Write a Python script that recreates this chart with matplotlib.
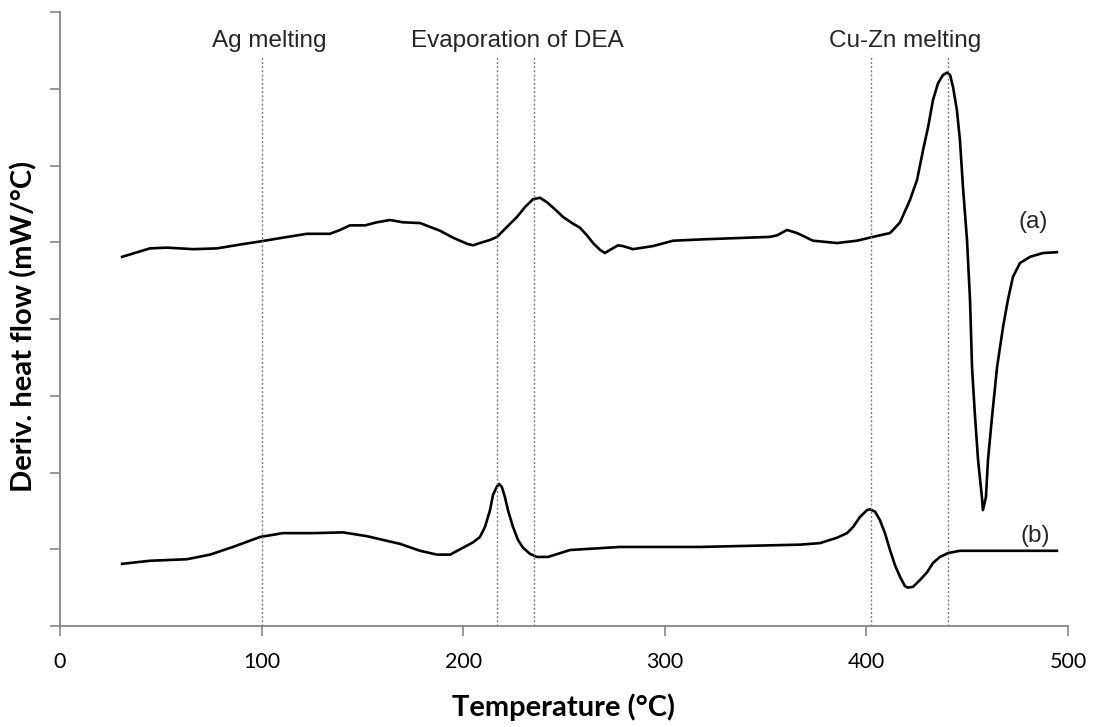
import matplotlib
matplotlib.use("Agg")
import matplotlib.pyplot as plt
import numpy as np

# curve (a) - temperature (C) and deriv. heat flow (arbitrary offset units)
temp_a = [30.8, 44.6, 53.1, 66.0, 77.9, 89.3, 99.2, 110.6, 122.5, 133.9, 138.9, 143.8,
          151.3, 157.2, 163.7, 170.1, 178.6, 188.5, 194.9, 201.9, 204.9, 208.3, 213.3,
          216.8, 221.7, 226.7, 230.7, 234.6, 238.1, 241.6, 245.5, 249.5, 254.0, 257.9,
          261.4, 264.4, 267.9, 270.3, 272.8, 276.8, 279.3, 284.2, 294.1, 304.1,
          320.9, 352.2, 355.7, 360.6, 365.6, 373.5, 385.4, 395.3, 403.3, 411.7,
          413.2, 416.7, 421.6, 425.1, 428.1, 430.6, 433.0, 435.5, 438.0, 440.0, 441.5,
          443.0, 444.9, 446.4, 447.9, 449.9, 451.4, 452.4, 453.9, 455.4, 457.3, 457.8,
          459.3, 460.3, 462.3, 464.8, 467.8, 470.2, 472.7, 476.2, 481.2, 487.6, 494.5]
flow_a = [4.81, 4.92, 4.93, 4.91, 4.92, 4.97, 5.01, 5.06, 5.11, 5.11, 5.16, 5.22,
          5.22, 5.26, 5.29, 5.26, 5.25, 5.15, 5.06, 4.98, 4.96, 4.99, 5.03,
          5.07, 5.20, 5.33, 5.46, 5.56, 5.58, 5.52, 5.43, 5.33, 5.25, 5.19,
          5.09, 4.99, 4.90, 4.86, 4.90, 4.96, 4.95, 4.91, 4.95, 5.02,
          5.04, 5.07, 5.09, 5.16, 5.12, 5.02, 4.99, 5.02, 5.07, 5.12,
          5.16, 5.26, 5.55, 5.81, 6.20, 6.50, 6.85, 7.07, 7.18, 7.21, 7.18,
          7.02, 6.72, 6.33, 5.72, 5.03, 4.25, 3.37, 2.72, 2.16, 1.68, 1.51,
          1.68, 2.16, 2.72, 3.37, 3.90, 4.25, 4.55, 4.73, 4.81, 4.86, 4.87]

# curve (b)
temp_b = [30.8, 44.6, 63.0, 74.4, 85.8, 99.2, 110.6, 125.5, 140.4, 152.3, 168.7, 178.6,
          187.0, 193.5, 199.9, 204.9, 208.3, 210.8, 213.3, 214.8, 216.8, 217.8, 219.2,
          220.7, 222.2, 224.7, 227.2, 229.7, 233.1, 236.6, 242.1, 253.0, 277.8, 317.5,
          367.1, 377.0, 385.4, 390.4, 393.4, 396.8, 400.3, 401.8, 404.3, 406.7, 409.2,
          411.7, 414.2, 416.7, 419.1, 420.6, 423.1, 426.6, 430.1, 433.0, 436.5, 440.5,
          446.4, 494.5]
flow_b = [0.81, 0.85, 0.87, 0.93, 1.03, 1.16, 1.21, 1.21, 1.22, 1.17, 1.07, 0.98,
          0.93, 0.93, 1.02, 1.09, 1.16, 1.29, 1.51, 1.71, 1.82, 1.85, 1.81,
          1.68, 1.51, 1.29, 1.12, 1.02, 0.94, 0.90, 0.90, 0.99, 1.03, 1.03,
          1.06, 1.08, 1.15, 1.21, 1.29, 1.42, 1.51, 1.52, 1.49, 1.38, 1.21,
          0.99, 0.79, 0.64, 0.52, 0.50, 0.51, 0.60, 0.70, 0.82, 0.90, 0.95,
          0.98, 0.98]

event_temps = [100, 217, 235, 402.5, 440.5]
event_labels = ["Ag melting", "Evaporation of DEA", "Cu-Zn melting"]
event_label_x = [104, 227, 419]

label_font = "Lato"
note_font = "Liberation Sans"
axis_grey = '#868686'
note_color = '#262626'

fig = plt.figure(figsize=(10.98, 7.27), dpi=100)
ax = fig.add_axes([60/1098, 1 - 626/727, 1008/1098, 614/727])

ax.plot(temp_a, flow_a, color='black', lw=1.9, solid_joinstyle='round')
ax.plot(temp_b, flow_b, color='black', lw=1.9, solid_joinstyle='round')

for t in event_temps:
    ax.plot([t, t], [0, 7.44], color='#7f7f7f', lw=1.0, ls=(0, (1.5, 1.5)))

for lab, x in zip(event_labels, event_label_x):
    ax.text(x, 7.62, lab, ha='center', va='center', fontsize=17.5,
            family=note_font, color=note_color)
ax.text(482.5, 5.26, "(a)", ha='center', va='center', fontsize=17.5,
        family=note_font, color=note_color)
ax.text(483.6, 1.17, "(b)", ha='center', va='center', fontsize=17.5,
        family=note_font, color=note_color)

ax.set_xlim(0, 500)
ax.set_ylim(0, 8)
ax.set_xticks(range(0, 501, 100))
ax.set_yticks(range(0, 9))
ax.set_yticklabels([])

for side in ['top', 'right']:
    ax.spines[side].set_visible(False)
for side in ['left', 'bottom']:
    ax.spines[side].set_color(axis_grey)
    ax.spines[side].set_linewidth(1.3)
ax.tick_params(axis='both', direction='out', length=7, width=1.2, color=axis_grey)
ax.tick_params(axis='x', labelsize=15.5, pad=12)
for lbl in ax.get_xticklabels():
    lbl.set_family(label_font)
ax.set_xlabel("Temperature (°C)", fontsize=21, fontweight='bold', family=label_font, labelpad=15)
ax.set_ylabel("Deriv. heat flow (mW/°C)", fontsize=21, fontweight='bold', family=label_font)
ax.yaxis.set_label_coords(-0.022, 0.488)

plt.savefig("out.png", dpi=100)
